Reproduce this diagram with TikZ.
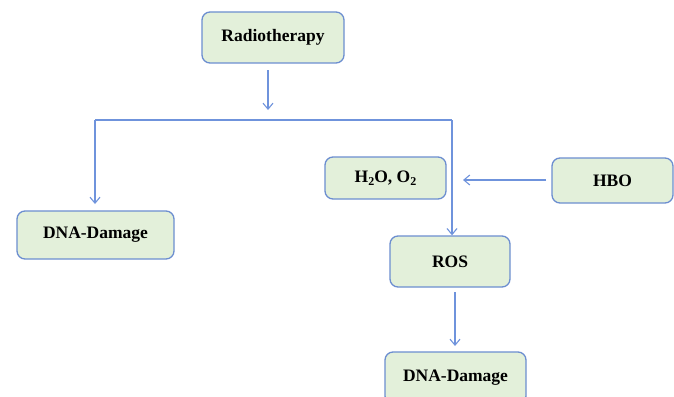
\documentclass[tikz,border=0pt]{standalone}
\usepackage{fontspec}
\setmainfont{Liberation Serif}
\usetikzlibrary{arrows.meta}
\definecolor{boxfill}{HTML}{E3F0DA}
\definecolor{boxdraw}{HTML}{6C8ED0}
\definecolor{arr}{HTML}{6F93DC}
\newcommand{\lowsub}[1]{\raisebox{-0.35ex}{\fontsize{12}{12}\selectfont #1}}
\tikzset{
  box/.style={draw=boxdraw, fill=boxfill, line width=1.3pt, rounded corners=8pt,
    font=\bfseries\fontsize{17.5}{20}\selectfont, align=center, inner sep=0pt},
  conn/.style={draw=arr, line width=1.1pt},
  arrow/.style={conn, -{Straight Barb[length=6pt,width=10pt]}}
}
\begin{document}
\begin{tikzpicture}[x=1pt,y=-1pt]
\useasboundingbox (0,0) rectangle (674,396);
\clip (0,0) rectangle (674,396);
\node[box, minimum width=142pt, minimum height=51pt] (rad) at (273,37.5) {Radiotherapy};
\node[box, minimum width=157pt, minimum height=48pt] (dnal) at (95.5,235) {DNA-Damage};
\node[box, minimum width=121pt, minimum height=42pt] (h2o) at (385.5,178) {H\lowsub{2}O, O\lowsub{2}};
\node[box, minimum width=121pt, minimum height=45pt] (hbo) at (612.5,180.5) {HBO};
\node[box, minimum width=120pt, minimum height=51pt] (ros) at (450,261.5) {ROS};
\node[box, minimum width=141pt, minimum height=52pt] (dnar) at (455.5,378) {DNA-Damage};
\coordinate (radtop) at (268,70);
\coordinate (radtip) at (268,110);
\coordinate (jl) at (95,120);
\coordinate (jr) at (452,120);
\coordinate (dltip) at (95,204);
\coordinate (hbostart) at (546,180);
\coordinate (hbotip) at (463,180);
\coordinate (rosbot) at (455,292);
\coordinate (dnartip) at (455,346);
\draw[arrow] (radtop) -- (radtip);
\draw[conn] (jl) -- (jr);
\draw[arrow] (jl) -- (dltip);
\draw[arrow] (jr) -- (jr |- ros.north);
\draw[arrow] (hbostart) -- (hbotip);
\draw[arrow] (rosbot) -- (dnartip);
\end{tikzpicture}
\end{document}
